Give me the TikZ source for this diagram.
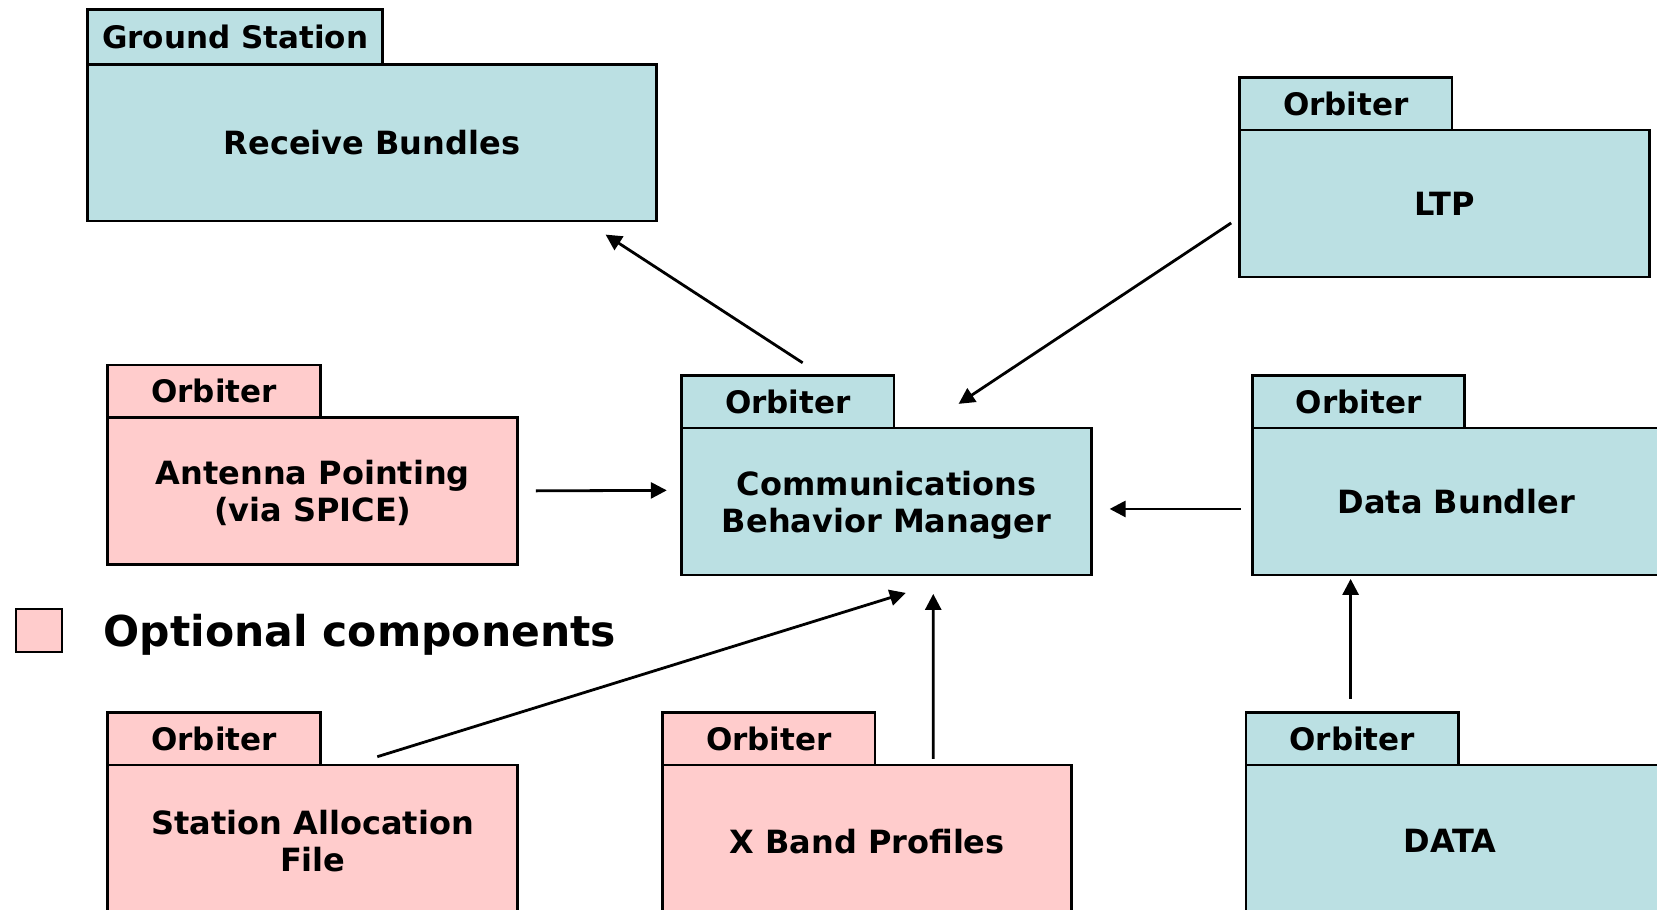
\documentclass[tikz,border=0pt]{standalone}
\usepackage{fontspec}
\setmainfont{DejaVu Sans}
\usetikzlibrary{arrows.meta}
\definecolor{pkgblue}{RGB}{187,224,227}
\definecolor{pkgpink}{RGB}{255,204,204}

\begin{document}
\begin{tikzpicture}[x=1pt,y=-1pt,
  box/.style={draw=black, line width=2.7pt, inner sep=0pt, outer sep=0pt, align=center},
  body/.style={box, anchor=north west, text depth=0pt,
               font=\fontsize{32}{37}\selectfont\bfseries},
  caption/.style={box, draw=none, text depth=0pt,
               font=\fontsize{32}{37}\selectfont\bfseries},
  tab/.style={box, anchor=south west, minimum width=212.5pt, minimum height=52.5pt,
              font=\fontsize{31}{36}\selectfont\bfseries},
  core/.style={fill=pkgblue},
  opt/.style={fill=pkgpink},
  flow/.style={draw=black, line width=2.8pt, -{Triangle[length=16pt,width=16pt]}},
]
\useasboundingbox (0,0) rectangle (1657,910);
\fill[white] (0,0) rectangle (1657,910);
\clip (0,0) rectangle (1657,910);

% Ground station package
\node[body, core, minimum width=568.6pt, minimum height=156.4pt] (rb) at (87.7,64.5) {Receive Bundles};
\node[tab, core, minimum width=294.9pt, minimum height=55pt] (rbtab) at (rb.north west) {Ground Station};

% LTP
\node[body, core, minimum width=410pt, minimum height=146.9pt] (ltp) at (1239.6,130) {LTP};
\node[tab, core] (ltptab) at (ltp.north west) {Orbiter};

% Antenna pointing (optional)
\node[body, opt, minimum width=410pt, minimum height=146.9pt] (ant) at (107.8,417.4) {Antenna Pointing\\(via SPICE)};
\node[tab, opt] (anttab) at (ant.north west) {Orbiter};

% Communications behavior manager
\node[body, core, minimum width=410.1pt, minimum height=146.9pt] (cbm) at (681.6,428) {Communications\\Behavior Manager};
\node[tab, core] (cbmtab) at (cbm.north west) {Orbiter};

% Data bundler (runs past the right edge)
\node[body, core, minimum width=420pt, minimum height=146.9pt] (db) at (1252.3,428) {};
\node[caption] (dbtext) at (1456.5,501.5) {Data Bundler};
\node[tab, core] (dbtab) at (db.north west) {Orbiter};

% Station allocation file (optional)
\node[body, opt, minimum width=410pt, minimum height=152pt] (sa) at (107.8,765.1) {Station Allocation\\File};
\node[tab, opt] (satab) at (sa.north west) {Orbiter};

% X band profiles (optional)
\node[body, opt, minimum width=409pt, minimum height=152pt] (xb) at (662.6,765.1) {X Band Profiles};
\node[tab, opt] (xbtab) at (xb.north west) {Orbiter};

% Data source (runs past the right edge)
\node[body, core, minimum width=420pt, minimum height=152pt] (data) at (1246,765.1) {};
\node[caption] (datatext) at (1450,841) {DATA};
\node[tab, core] (datatab) at (data.north west) {Orbiter};

% Legend
\node[draw=black, line width=2.7pt, fill=pkgpink, minimum width=46pt, minimum height=43pt,
      inner sep=0pt, anchor=north west] (legbox) at (14.5,607.5) {};
\node[anchor=base west, inner sep=0pt, font=\fontsize{42.5}{50}\selectfont\bfseries] (legtext)
      at (103.6,646.8) {Optional components};

% Data flows
\draw[flow] ([shift={(14.8,-12.7)}]cbmtab.north) -- ([shift={(233.6,13.7)}]rb.south);
\draw[flow] ([shift={(-8.4,19.5)}]ltp.west) -- ([shift={(64.5,2.1)}]cbmtab.east);
\draw[flow] ([xshift=18pt]ant.east) -- ([shift={(-14.8,-11.1)}]cbm.west);
\draw[flow] ([shift={(-11.6,7.5)}]db.west) -- ([shift={(17.9,7.5)}]cbm.east);
\draw[flow] ([shift={(64.5,-8.4)}]sa.north) -- ([shift={(19.1,18)}]cbm.south);
\draw[flow] ([shift={(66.1,-6.3)}]xb.north) -- ([shift={(46.6,19)}]cbm.south);
\draw[flow] ([shift={(104.6,-13.7)}]datatab.north west) -- ([shift={(98.3,4)}]db.south west);
\end{tikzpicture}
\end{document}
